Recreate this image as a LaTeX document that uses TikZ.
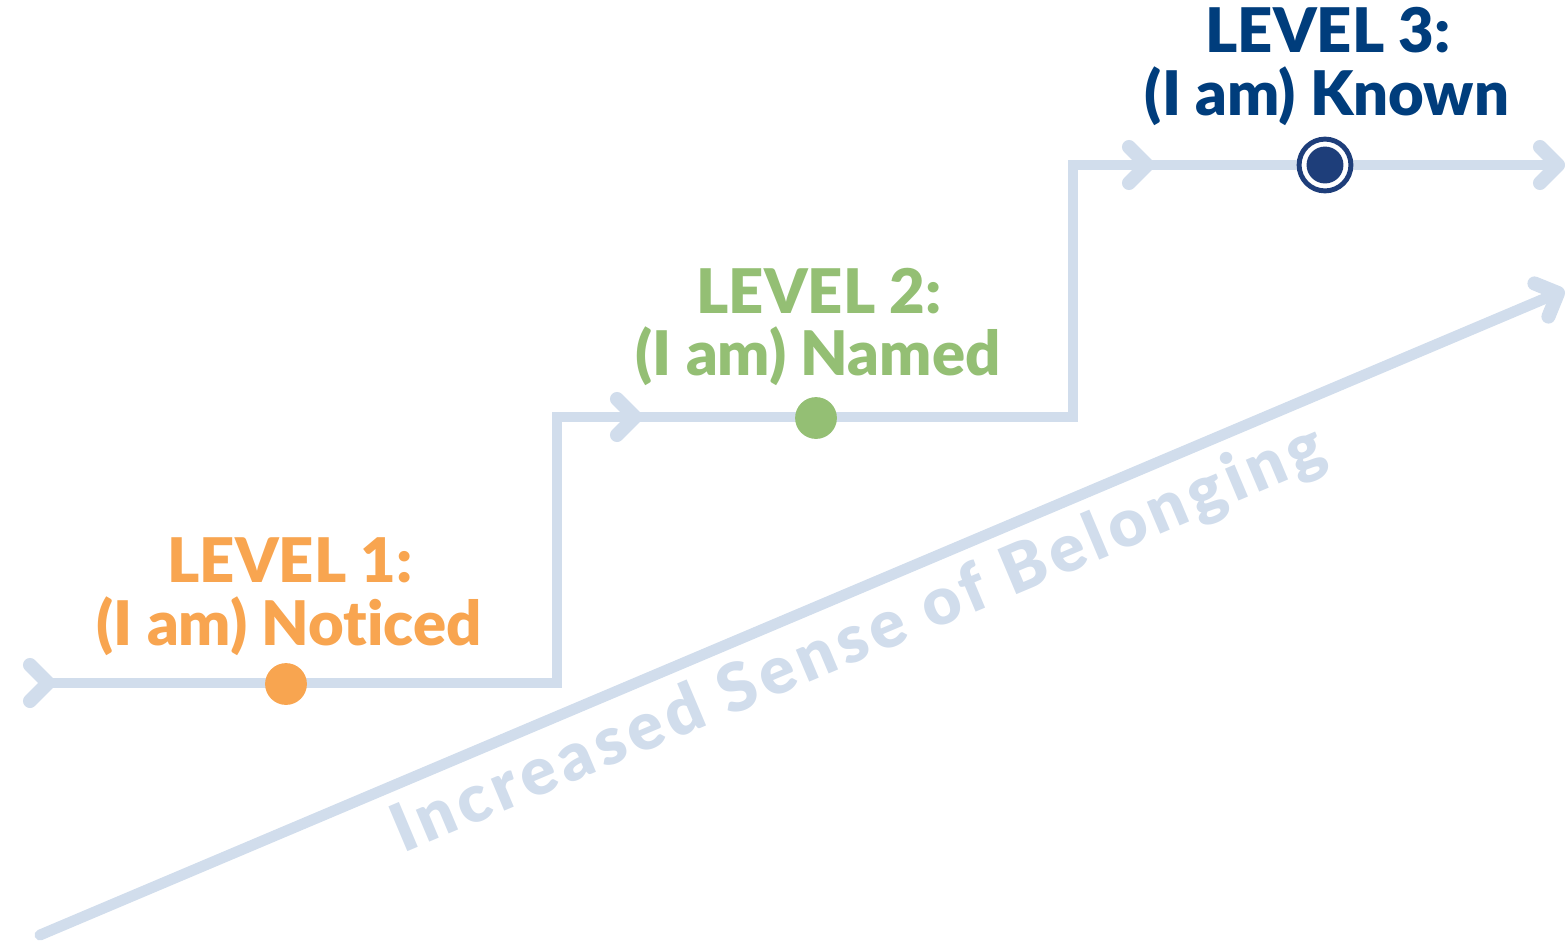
\documentclass[tikz,border=0pt]{standalone}
\usepackage{fontspec}
\setmainfont{Lato}[BoldFont={Lato Black}, Ligatures=NoCommon]
\usetikzlibrary{positioning}

\definecolor{pathblue}{RGB}{209,221,236}
\definecolor{lvorange}{RGB}{248,165,80}
\definecolor{lvgreen}{RGB}{148,191,116}
\definecolor{lvnavy}{RGB}{0,61,124}
\definecolor{dotnavy}{RGB}{30,62,122}

\begin{document}
\begin{tikzpicture}[
  x = 0.02cm, y = -0.02cm,
  stepline/.style = {pathblue, line width=6.2pt},
  chevline/.style = {pathblue, line width=8pt, line cap=round, line join=round},
  dot/.style      = {circle, inner sep=0pt, minimum size=23.8pt},
  navydot/.style  = {circle, inner sep=0pt, draw=dotnavy, fill=white, line width=2.8pt, minimum size=29.5pt,
                     path picture={\fill[dotnavy] (path picture bounding box.center) circle (10.5pt);}},
  head/.style     = {font=\fontsize{35}{40}\selectfont\bfseries, anchor=base, inner sep=0pt},
  sense/.style    = {pathblue, font=\fontsize{38}{40}\selectfont\bfseries\addfontfeatures{LetterSpace=8},
                     anchor=base west, inner sep=0pt, rotate=22.9},
  chev/.pic       = {\draw[chevline] (-18,-18) -- (0,0) -- (-18,18);},
  ]
  \useasboundingbox (0,0) rectangle (1565,941);
  % the steps
  \coordinate (s0) at (48,683);
  \coordinate (c1) at (557,683);
  \coordinate (c2) at (557,417);
  \coordinate (c3) at (1073,417);
  \coordinate (c4) at (1073,165);
  \coordinate (s5) at (1558,165);
  \coordinate (a2) at (635,417);
  \coordinate (a3) at (1147,165);
  \draw[stepline] (s0) -- (c1) -- (c2) -- (c3) -- (c4) -- (s5);
  \pic at (s0) {chev};
  \pic at (a2) {chev};
  \pic at (a3) {chev};
  \pic at (s5) {chev};
  % rising arrow
  \coordinate (g0) at (40,935);
  \coordinate (g1) at (1558,293);
  \draw[stepline, line cap=round] (g0) -- (g1);
  \pic[rotate=22.9] at (g1) {chev};
  \node[sense] (belong) at (403,854) {Increased Sense of Belonging};
  % level dots
  \node[dot, fill=lvorange] (d1) at (286,684) {};
  \node[dot, fill=lvgreen] (d2) at (816,418) {};
  \node[navydot] (d3) at (1325,165) {};
  % level labels
  \node[head, lvorange] (l1a) at (290,582) {LEVEL 1:};
  \node[head, lvorange] (l1b) at (289,645) {(I am) Not\kern0pt{}iced};
  \node[head, lvgreen] (l2a) at (819,313) {LEVEL 2:};
  \node[head, lvgreen] (l2b) at (818,375) {(I am) Named};
  \node[head, lvnavy] (l3a) at (1328,52) {LEVEL 3:};
  \node[head, lvnavy] (l3b) at (1327,115) {(I am) Known};
\end{tikzpicture}
\end{document}
